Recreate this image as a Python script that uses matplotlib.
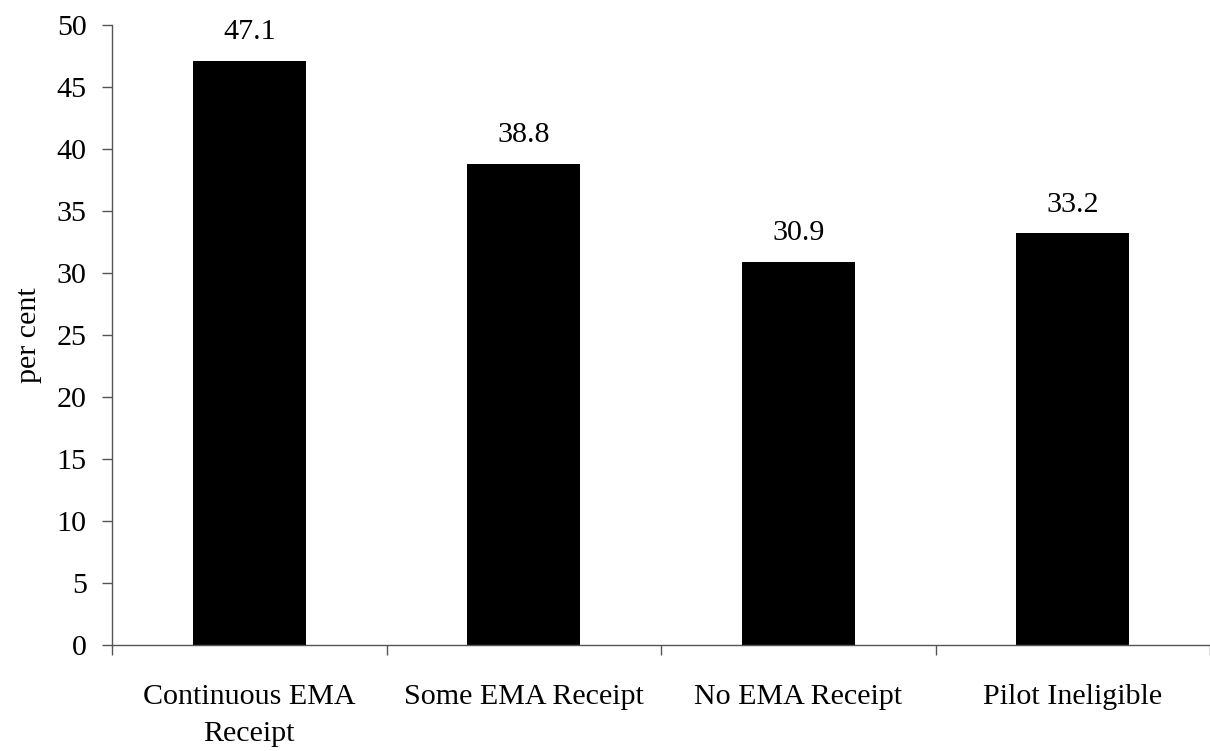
import numpy as np
import matplotlib
matplotlib.use("Agg")
import matplotlib.pyplot as plt

# share of each group, per cent
categories = ["Continuous EMA\nReceipt", "Some EMA Receipt", "No EMA Receipt", "Pilot Ineligible"]
values = [47.1, 38.8, 30.9, 33.2]
y_ticks = list(range(0, 55, 5))

plt.rcParams['font.family'] = ['Liberation Serif', 'DejaVu Serif']
plt.rcParams['font.size'] = 21.6

fig = plt.figure(figsize=(12.1, 7.51), dpi=100)
ax = fig.add_axes([112 / 1210, 1 - 645 / 751, 1098 / 1210, 620 / 751])

x = np.arange(len(categories))
bars = ax.bar(x, values, width=0.41, color='black', zorder=2)

for xi, v in zip(x, values):
    ax.annotate(f"{v:.1f}", xy=(xi, v), xytext=(0, 15.5), textcoords='offset points',
                ha='center', va='baseline')

ax.set_xlim(-0.5, len(categories) - 0.5)
ax.set_ylim(0, 50)
ax.set_yticks(y_ticks)

# category boundaries get the tick marks, the names sit under the bars
ax.set_xticks(np.arange(len(categories) + 1) - 0.5)
ax.set_xticklabels([])
ax.set_xticks(x, minor=True)
ax.set_xticklabels(categories, minor=True, linespacing=1.55)
ax.tick_params(axis='x', which='major', direction='out', length=7.5, width=1, color='#555555')
ax.tick_params(axis='x', which='minor', length=0, pad=28)
ax.tick_params(axis='y', direction='out', length=7.2, width=1, color='#555555', pad=11)

for side in ['top', 'right']:
    ax.spines[side].set_visible(False)
for side in ['left', 'bottom']:
    ax.spines[side].set_color('#555555')
    ax.spines[side].set_linewidth(1)

ax.set_ylabel("per cent")
ax.yaxis.set_label_coords(-0.064, 0.5)

fig.savefig("out.png", dpi=100)
